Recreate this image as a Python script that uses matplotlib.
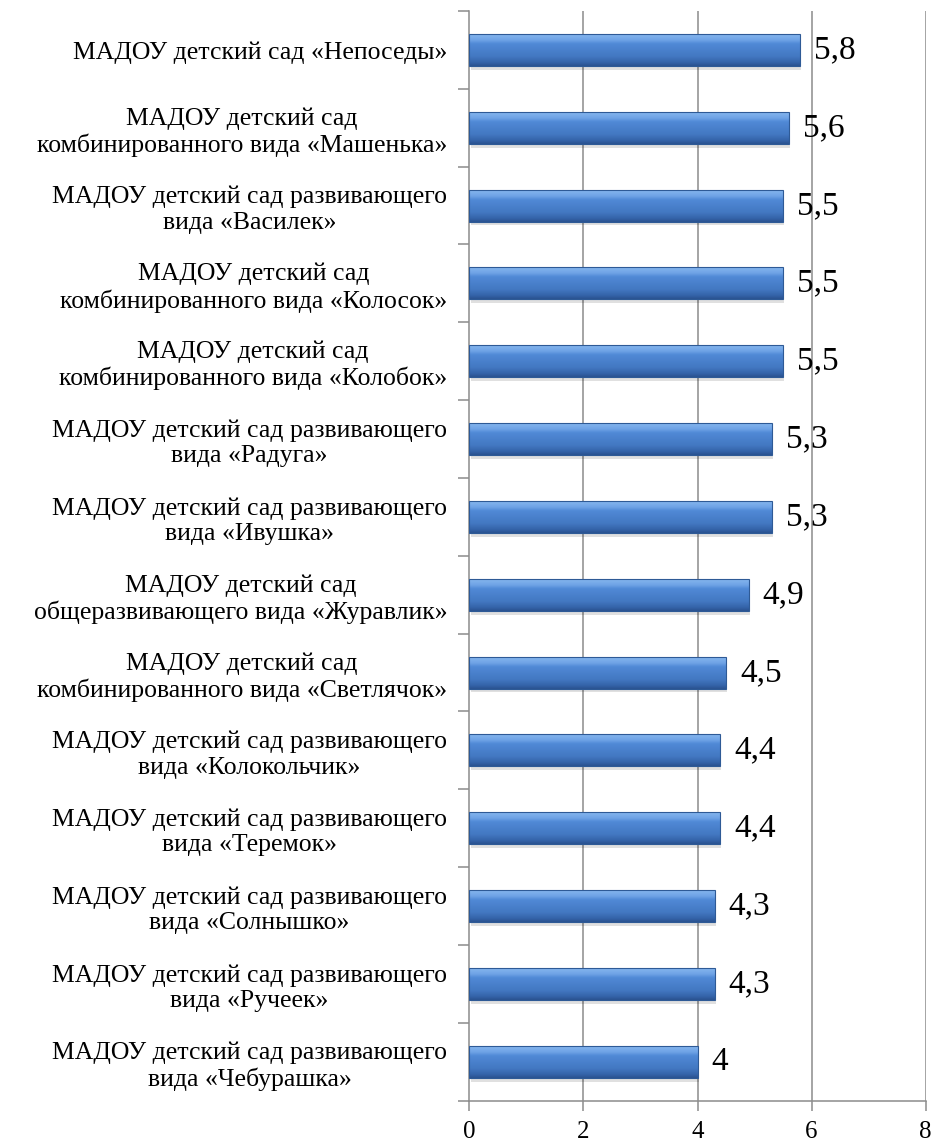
#!/usr/bin/env python3
"""Horizontal bar chart: kindergarten scores, Excel-style bevelled bars."""
import matplotlib
matplotlib.use("Agg")
import matplotlib.pyplot as plt
import numpy as np
from matplotlib.colors import LinearSegmentedColormap

GRID = "#8C8C8C"
SERIF = ["Liberation Serif", "DejaVu Serif"]

labels = [
    "МАДОУ детский сад «Непоседы»",
    "МАДОУ детский сад\nкомбинированного вида «Машенька»",
    "МАДОУ детский сад развивающего\nвида «Василек»",
    "МАДОУ детский сад\nкомбинированного вида «Колосок»",
    "МАДОУ детский сад\nкомбинированного вида «Колобок»",
    "МАДОУ детский сад развивающего\nвида «Радуга»",
    "МАДОУ детский сад развивающего\nвида «Ивушка»",
    "МАДОУ детский сад\nобщеразвивающего вида «Журавлик»",
    "МАДОУ детский сад\nкомбинированного вида «Светлячок»",
    "МАДОУ детский сад развивающего\nвида «Колокольчик»",
    "МАДОУ детский сад развивающего\nвида «Теремок»",
    "МАДОУ детский сад развивающего\nвида «Солнышко»",
    "МАДОУ детский сад развивающего\nвида «Ручеек»",
    "МАДОУ детский сад развивающего\nвида «Чебурашка»",
]
values = [5.8, 5.6, 5.5, 5.5, 5.5, 5.3, 5.3, 4.9, 4.5, 4.4, 4.4, 4.3, 4.3, 4.0]
xticks = [0, 2, 4, 6, 8]

plt.rcParams["font.family"] = SERIF

fig = plt.figure(figsize=(9.35, 11.42), dpi=100)
ax = fig.add_axes([0.502, 0.0362, 0.488, 0.9542])

y = np.arange(len(labels))
bars = ax.barh(y, values, height=0.41, color="#4A7FC8", edgecolor="none", zorder=3)

# bevel-like vertical gradient, clipped to each bar
cmap = LinearSegmentedColormap.from_list(
    "bevel", [(0, "#86B6EE"), (0.18, "#6FA3E6"), (0.3, "#5089D6"),
              (0.7, "#4378C2"), (0.9, "#3463A8"), (1, "#2A5290")])
grad = np.linspace(0, 1, 64).reshape(-1, 1)
for b in bars:
    x0, y0, w, h = b.get_x(), b.get_y(), b.get_width(), b.get_height()
    # soft shadow
    ax.add_patch(plt.Rectangle((x0 + 0.02, y0 + 0.05), w, h, color="#000000",
                               alpha=0.12, lw=0, zorder=2))
    im = ax.imshow(grad, cmap=cmap, aspect="auto", extent=(x0, x0 + w, y0 + h, y0),
                   zorder=4, interpolation="bicubic")
    im.set_clip_path(b)
    ax.add_patch(plt.Rectangle((x0, y0), w, h, fill=False, ec="#2E5A96", lw=0.8, zorder=5))

for b, v in zip(bars, values):
    txt = f"{v:g}".replace(".", ",")
    ax.annotate(txt, (b.get_width(), b.get_y() + b.get_height() / 2),
                xytext=(10, 0), textcoords="offset points", ha="left", va="center",
                fontsize=24, color="black", zorder=6)

ax.set_xlim(0, 8)
ax.set_ylim(len(labels) - 0.5, -0.5)
ax.set_xticks(xticks)
ax.set_xticklabels([str(t) for t in xticks], fontsize=18)
ax.set_yticks(y)
ax.set_yticklabels(labels, fontsize=18.5, multialignment="center", linespacing=1.2)
ax.set_yticks(np.arange(-0.5, len(labels), 1), minor=True)
ax.tick_params(axis="y", which="major", length=0, pad=16)
ax.tick_params(axis="y", which="minor", length=8, width=1.1, color=GRID, direction="out")
ax.tick_params(axis="x", length=7, width=1.1, color=GRID, pad=8)

for s in ("top", "right"):
    ax.spines[s].set_visible(False)
for s in ("left", "bottom"):
    ax.spines[s].set_color(GRID)
    ax.spines[s].set_linewidth(1.1)

for t in xticks[1:]:
    ax.axvline(t, color=GRID, lw=1.1, zorder=1)

fig.savefig("out.png", dpi=100, facecolor="white")
